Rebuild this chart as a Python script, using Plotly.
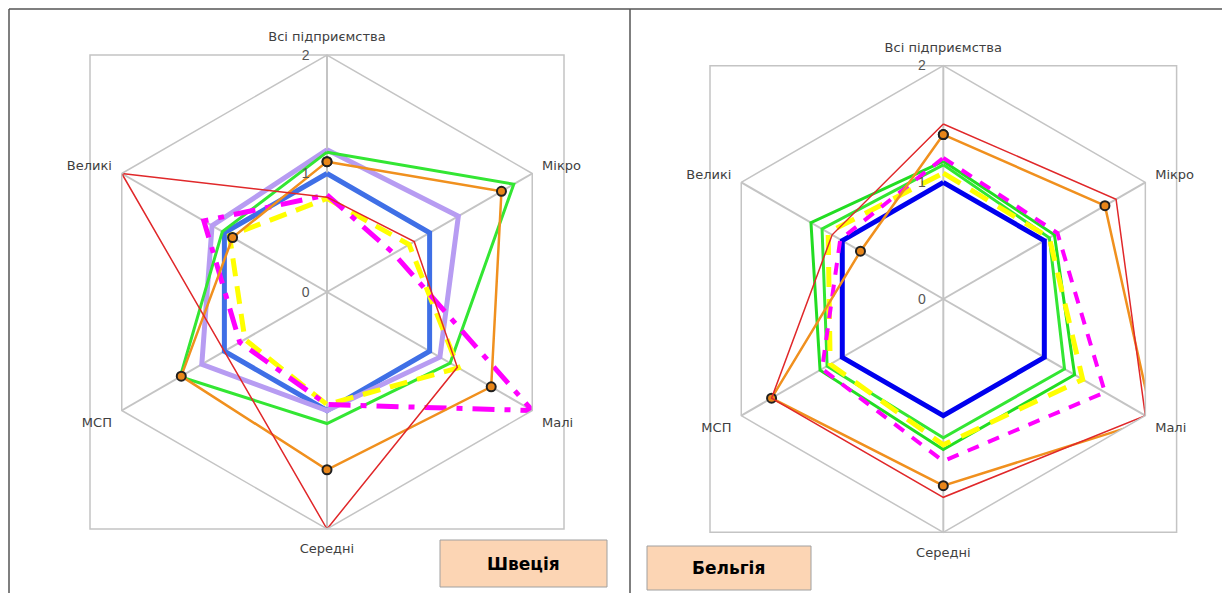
import plotly.graph_objects as go

# reference canvas is 1230x601; the page body adds an 8px margin, so the
# figure is 16px smaller and every reference pixel is shifted by -8.
W, H = 1214, 585
OFF = 8

categories = ["Всі підприємства", "Мікро", "Малі", "Середні", "МСП", "Великі"]
radial_ticks = [0, 1, 2]

# Швеція
se_blue = [1.0, 1.0, 1.0, 1.0, 1.0, 1.0]
se_lavender = [1.2, 1.28, 1.1, 1.0, 1.22, 1.12]
se_green = [1.18, 1.82, 1.2, 1.11, 1.43, 1.02]
se_yellow = [0.79, 0.8, 1.28, 0.95, 0.8, 0.95]
se_magenta = [0.82, 0.65, 2.0, 0.95, 0.85, 1.2]
se_orange = [1.1, 1.7, 1.6, 1.5, 1.42, 0.92]
se_red = [0.8, 0.85, 1.27, 2.0, 1.0, 2.0]

# Бельгія
be_blue = [1.0, 1.0, 1.0, 1.0, 1.0, 1.0]
be_green2 = [1.15, 1.05, 1.2, 1.19, 1.15, 1.2]
be_green = [1.18, 1.1, 1.3, 1.29, 1.22, 1.31]
be_yellow = [1.08, 1.05, 1.38, 1.25, 1.12, 1.14]
be_magenta = [1.21, 1.13, 1.6, 1.39, 1.2, 1.02]
be_orange = [1.41, 1.6, 2.07, 1.6, 1.7, 0.82]
be_red = [1.5, 1.71, 2.0, 1.7, 1.7, 1.1]

country_left = "Швеція"
country_right = "Бельгія"


def fx(x):
    return (x - OFF) / W


def fy(y):
    return 1 - (y - OFF) / H


def closed(vals):
    return list(vals) + [vals[0]], categories + [categories[0]]


fig = go.Figure()


def add(vals, subplot, color, width, dash="solid", markers=False):
    r, th = closed(vals)
    kw = dict(
        r=r, theta=th, subplot=subplot, mode="lines+markers" if markers else "lines",
        line=dict(color=color, width=width, dash=dash),
        showlegend=False, hoverinfo="skip", cliponaxis=False,
    )
    if markers:
        kw["marker"] = dict(size=9, color="#e8861a", line=dict(color="#202020", width=2))
    fig.add_trace(go.Scatterpolar(**kw))


# left
add(se_blue, "polar", "#3f6fe6", 5)
add(se_lavender, "polar", "#b79cf2", 5)
add(se_green, "polar", "#33e633", 3)
add(se_yellow, "polar", "#ffff00", 5, "18px,10px")
add(se_magenta, "polar", "#ff00ff", 5, "22px,10px,6px,10px")
add(se_orange, "polar", "#f0901e", 2.5, markers=True)
add(se_red, "polar", "#e0282a", 1.5)

# right
add(be_blue, "polar2", "#0000ee", 5)
add(be_green2, "polar2", "#33e633", 3)
add(be_green, "polar2", "#22dd22", 3)
add(be_yellow, "polar2", "#ffff00", 5, "20px,12px")
add(be_magenta, "polar2", "#ff00ff", 4, "12px,10px")
add(be_orange, "polar2", "#f0901e", 2.5, markers=True)
add(be_red, "polar2", "#e0282a", 1.5)

grid_col = "#c4c4c4"
font_fam = "DejaVu Sans, Liberation Sans, Arial, sans-serif"


def polar_layout(x0, x1, y0, y1):
    return dict(
        domain=dict(x=[fx(x0), fx(x1)], y=[fy(y1), fy(y0)]),
        gridshape="linear",
        bgcolor="rgba(0,0,0,0)",
        radialaxis=dict(
            range=[0, 2], tickvals=radial_ticks, ticktext=[str(v) for v in radial_ticks],
            showgrid=False, showline=False, angle=90, side="counterclockwise",
            ticks="outside", ticklen=12, tickcolor="rgba(0,0,0,0)",
            tickangle=90, tickfont=dict(size=14, color="#555555", family="Liberation Sans, Arial"),
        ),
        angularaxis=dict(
            type="category", categoryarray=categories, direction="clockwise", rotation=90,
            showgrid=True, gridcolor=grid_col, gridwidth=1.5,
            showline=True, linecolor=grid_col, linewidth=1.5,
            ticks="outside", ticklen=8, tickcolor="rgba(0,0,0,0)",
            tickfont=dict(size=13, color="#404040", family=font_fam),
        ),
    )


L = (90, 564, 55, 529)
R = (710, 1176.6, 65.7, 532.3)

shapes = []
for (x0, x1, y0, y1) in (L, R):
    shapes.append(dict(type="rect", xref="paper", yref="paper", x0=fx(x0), x1=fx(x1),
                       y0=fy(y1), y1=fy(y0), line=dict(color=grid_col, width=1.5), layer="below"))

border = "#555555"
shapes += [
    dict(type="line", xref="paper", yref="paper", x0=fx(9), x1=1.02, y0=fy(9), y1=fy(9),
         line=dict(color=border, width=1.5)),
    dict(type="line", xref="paper", yref="paper", x0=fx(9), x1=fx(9), y0=fy(9), y1=-0.02,
         line=dict(color=border, width=1.5)),
    dict(type="line", xref="paper", yref="paper", x0=fx(630), x1=fx(630), y0=fy(9), y1=-0.02,
         line=dict(color=border, width=1.5)),
]

boxes = [((440, 607, 540, 587), country_left), ((647, 811, 546, 590), country_right)]
annotations = []
for (x0, x1, y0, y1), txt in boxes:
    shapes.append(dict(type="rect", xref="paper", yref="paper", x0=fx(x0), x1=fx(x1),
                       y0=fy(y1), y1=fy(y0), fillcolor="#fcd5b4",
                       line=dict(color="#a0a0a0", width=1)))
    annotations.append(dict(x=fx((x0 + x1) / 2), y=fy((y0 + y1) / 2), xref="paper", yref="paper",
                            xanchor="center", yanchor="middle",
                            text="<b>" + txt + "</b>", showarrow=False,
                            font=dict(size=17, color="#000000", family="DejaVu Sans, Arial")))

fig.update_layout(
    width=W, height=H,
    margin=dict(l=0, r=0, t=0, b=0),
    paper_bgcolor="white",
    plot_bgcolor="white",
    polar=polar_layout(*L),
    polar2=polar_layout(*R),
    shapes=shapes,
    annotations=annotations,
    showlegend=False,
)

fig.write_html("out.html")
